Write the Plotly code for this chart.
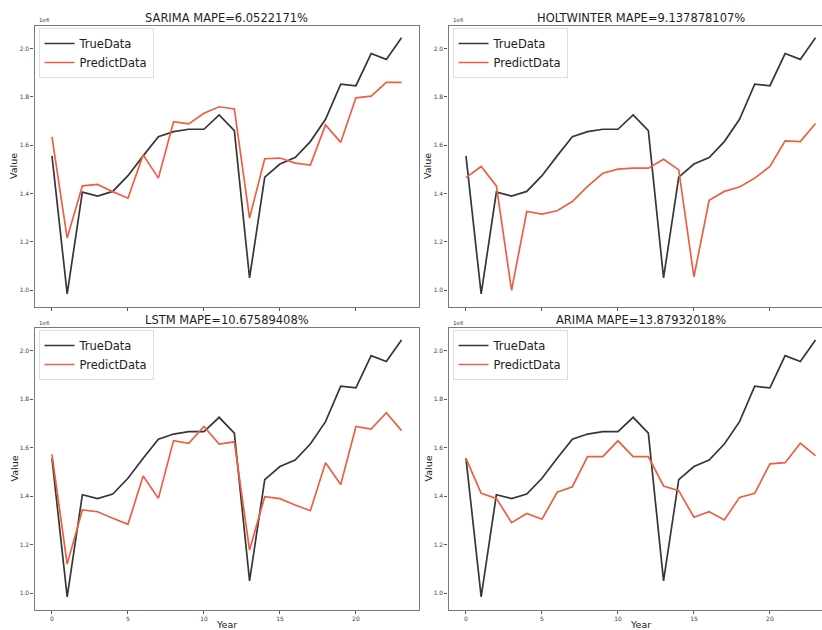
import plotly.graph_objects as go

# Observed series (values in units of 1e6) and four model forecasts
years = list(range(24))
true_data = [1.556, 0.985, 1.406, 1.390, 1.409, 1.474, 1.556, 1.635, 1.656, 1.666,
             1.666, 1.725, 1.660, 1.051, 1.468, 1.522, 1.549, 1.615, 1.707, 1.853,
             1.846, 1.979, 1.955, 2.044]

sarima_pred = [1.635, 1.216, 1.432, 1.438, 1.408, 1.381, 1.560, 1.464, 1.697, 1.688,
               1.732, 1.759, 1.750, 1.299, 1.544, 1.547, 1.526, 1.518, 1.684, 1.612,
               1.796, 1.803, 1.860, 1.860]

holtwinter_pred = [1.466, 1.512, 1.432, 1.000, 1.326, 1.315, 1.329, 1.367, 1.430, 1.484,
                   1.501, 1.505, 1.505, 1.542, 1.498, 1.056, 1.372, 1.409, 1.427, 1.464,
                   1.512, 1.618, 1.615, 1.690]

lstm_pred = [1.572, 1.120, 1.343, 1.336, 1.309, 1.284, 1.483, 1.391, 1.629, 1.618,
             1.687, 1.615, 1.624, 1.178, 1.398, 1.390, 1.364, 1.340, 1.538, 1.448,
             1.687, 1.676, 1.744, 1.670]

arima_pred = [1.556, 1.412, 1.391, 1.291, 1.329, 1.305, 1.416, 1.439, 1.563, 1.563,
              1.628, 1.563, 1.563, 1.442, 1.423, 1.313, 1.336, 1.302, 1.395, 1.412,
              1.533, 1.538, 1.618, 1.567]

panel_titles = ["SARIMA MAPE=6.0522171%", "HOLTWINTER MAPE=9.137878107%",
                "LSTM MAPE=10.67589408%", "ARIMA MAPE=13.87932018%"]
predictions = [sarima_pred, holtwinter_pred, lstm_pred, arima_pred]

y_tick_vals = [1.0, 1.2, 1.4, 1.6, 1.8, 2.0]
y_tick_text = ["1.0", "1.2", "1.4", "1.6", "1.8", "2.0"]
x_tick_vals = [0, 5, 10, 15, 20]

W, H = 822, 630
TRUE_COLOR = "#363636"
PRED_COLOR = "#ec5f42"
FONT = "DejaVu Sans"

# Panel geometry in pixels: (left, right, top, bottom)
panels = [
    (34.5, 419.0, 26.0, 307.0),
    (448.5, 822.0, 26.0, 307.0),
    (34.5, 419.0, 328.0, 610.0),
    (448.5, 822.0, 328.0, 610.0),
]
px_per_year = (419.0 - 34.5) / 25.3

fig = go.Figure()
annotations = []
layout_axes = {}

for i, (left, right, top, bottom) in enumerate(panels):
    n = i + 1
    xa = "x" if n == 1 else f"x{n}"
    ya = "y" if n == 1 else f"y{n}"
    leg = "legend" if n == 1 else f"legend{n}"

    fig.add_trace(go.Scatter(x=years, y=true_data, mode="lines", name="TrueData",
                             line=dict(color=TRUE_COLOR, width=1.7),
                             xaxis=xa, yaxis=ya, legend=leg))
    fig.add_trace(go.Scatter(x=years, y=predictions[i], mode="lines", name="PredictData",
                             line=dict(color=PRED_COLOR, width=1.7),
                             xaxis=xa, yaxis=ya, legend=leg))

    x_hi = -1.15 + (right - left) / px_per_year
    bottom_row = n >= 3
    right_col = n % 2 == 0

    layout_axes[f"xaxis{'' if n == 1 else n}"] = dict(
        domain=[left / W, right / W], range=[-1.15, x_hi], anchor=ya,
        showgrid=False, zeroline=False, showline=True, linecolor="#7a7a7a",
        linewidth=1.2, mirror=True, ticks="outside", ticklen=3, tickwidth=0.8,
        tickcolor="#555", tickvals=x_tick_vals,
        showticklabels=bottom_row,
        tickfont=dict(family=FONT, size=6, color="#444"),
    )
    layout_axes[f"yaxis{'' if n == 1 else n}"] = dict(
        domain=[1 - bottom / H, 1 - top / H], range=[0.931, 2.093], anchor=xa,
        showgrid=False, zeroline=False, showline=True, linecolor="#7a7a7a",
        linewidth=1.2, mirror=not right_col, ticks="outside", ticklen=3,
        tickwidth=0.8, tickcolor="#555",
        tickvals=y_tick_vals, ticktext=y_tick_text,
        tickfont=dict(family=FONT, size=6, color="#444"),
    )

    cx = (34.5 + 419.0) / 2 if not right_col else (448.5 + 833.0) / 2
    # Panel title
    annotations.append(dict(text=panel_titles[i], x=cx / W, y=1 - (top - 8) / H,
                            xref="paper", yref="paper", showarrow=False,
                            xanchor="center", yanchor="middle",
                            font=dict(family=FONT, size=11.5, color="#1e1e1e")))
    # Offset text for the y scale
    annotations.append(dict(text="1e6", x=(left + 2) / W, y=1 - (top - 5.5) / H,
                            xref="paper", yref="paper", showarrow=False,
                            xanchor="left", yanchor="middle",
                            font=dict(family=FONT, size=5.5, color="#444")))
    # Y axis title
    annotations.append(dict(text="Value", x=(left - 21) / W, y=1 - (top + bottom) / 2 / H,
                            xref="paper", yref="paper", showarrow=False, textangle=-90,
                            xanchor="center", yanchor="middle",
                            font=dict(family=FONT, size=9.5, color="#222")))
    if bottom_row:
        annotations.append(dict(text="Year", x=cx / W, y=1 - 624 / H,
                                xref="paper", yref="paper", showarrow=False,
                                xanchor="center", yanchor="middle",
                                font=dict(family=FONT, size=9.5, color="#222")))

    layout_axes[leg] = dict(
        x=(left + 4) / W, y=1 - (top + 2) / H, xanchor="left", yanchor="top",
        bgcolor="rgba(255,255,255,0.85)", bordercolor="#dddddd", borderwidth=1,
        font=dict(family=FONT, size=11.5, color="#222"),
        itemwidth=30, tracegroupgap=0,
    )

fig.update_layout(
    width=W, height=H, margin=dict(l=0, r=0, t=0, b=0),
    paper_bgcolor="white", plot_bgcolor="white",
    showlegend=True, annotations=annotations,
    **layout_axes,
)

fig.write_html("out.html")
